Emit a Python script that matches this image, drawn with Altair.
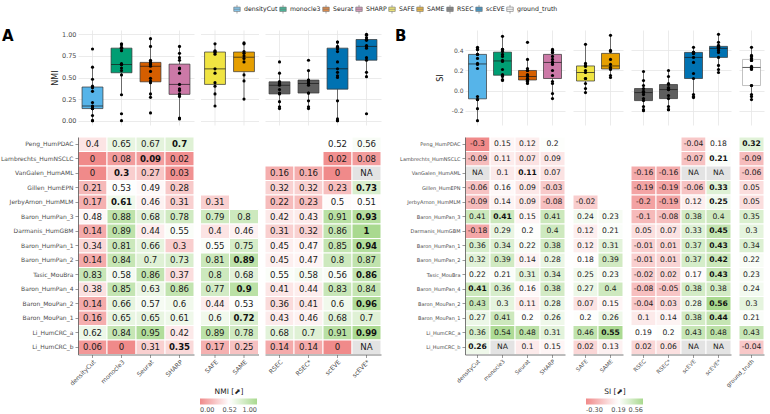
import altair as alt
import pandas as pd

# ---------------------------------------------------------------- data
datasets = [
    "Peng_HumPDAC", "Lambrechts_HumNSCLC", "VanGalen_HumAML", "Gillen_HumEPN",
    "JerbyArnon_HumMLM", "Baron_HumPan_3", "Darmanis_HumGBM", "Baron_HumPan_1",
    "Baron_HumPan_2", "Tasic_MouBra", "Baron_HumPan_4", "Baron_MouPan_2",
    "Baron_MouPan_1", "Li_HumCRC_a", "Li_HumCRC_b",
]

groups_nmi = [
    ["densityCut", "monocle3", "Seurat", "SHARP"],
    ["SAFE", "SAME"],
    ["RSEC", "RSEC*", "scEVE", "scEVE*"],
]
groups_si = groups_nmi + [["ground_truth"]]

NA = "NA"    # method ran but produced no usable result
# None = method not run on that dataset (no cell)

nmi = {
    "densityCut": [0.4, 0, 0, 0.21, 0.17, 0.48, 0.14, 0.34, 0.14, 0.83, 0.38, 0.14, 0.16, 0.62, 0.06],
    "monocle3":   [0.65, 0.08, 0.3, 0.53, 0.61, 0.88, 0.89, 0.81, 0.84, 0.58, 0.85, 0.66, 0.65, 0.84, 0],
    "Seurat":     [0.67, 0.09, 0.27, 0.49, 0.46, 0.68, 0.44, 0.66, 0.7, 0.86, 0.63, 0.57, 0.65, 0.95, 0.31],
    "SHARP":      [0.7, 0.02, 0.03, 0.28, 0.31, 0.78, 0.55, 0.3, 0.73, 0.37, 0.86, 0.6, 0.61, 0.42, 0.35],
    "SAFE":       [None, None, None, None, 0.31, 0.79, 0.4, 0.55, 0.81, 0.8, 0.77, 0.44, 0.6, 0.89, 0.17],
    "SAME":       [None, None, None, None, None, 0.8, 0.46, 0.75, 0.89, 0.68, 0.9, 0.53, 0.72, 0.78, 0.25],
    "RSEC":       [None, None, 0.16, 0.32, 0.22, 0.42, 0.31, 0.45, 0.45, 0.55, 0.41, 0.36, 0.43, 0.68, 0.14],
    "RSEC*":      [None, None, 0.16, 0.32, 0.23, 0.43, 0.32, 0.47, 0.47, 0.58, 0.44, 0.41, 0.46, 0.7, 0.14],
    "scEVE":      [0.52, 0.02, 0, 0.23, 0.5, 0.91, 0.86, 0.85, 0.8, 0.56, 0.83, 0.6, 0.68, 0.91, 0],
    "scEVE*":     [0.56, 0.08, NA, 0.73, 0.51, 0.93, 1, 0.94, 0.87, 0.86, 0.84, 0.96, 0.7, 0.99, NA],
}
nmi_best = ["SHARP", "Seurat", "monocle3", "scEVE*", "monocle3", "scEVE*", "scEVE*", "scEVE*",
            "SAME", "scEVE*", "SAME", "scEVE*", "SAME", "scEVE*", "SHARP"]

si = {
    "densityCut":   [-0.3, -0.09, NA, -0.06, -0.09, 0.41, -0.18, 0.36, 0.32, 0.22, 0.41, 0.43, 0.27, 0.36, 0.26],
    "monocle3":     [0.15, 0.11, 0.1, 0.16, 0.14, 0.41, 0.29, 0.34, 0.39, 0.21, 0.36, 0.3, 0.41, 0.54, NA],
    "Seurat":       [0.12, 0.07, 0.11, 0.09, 0.09, 0.15, 0.2, 0.22, 0.14, 0.31, 0.16, 0.11, 0.2, 0.48, 0.1],
    "SHARP":        [0.2, 0.09, 0.07, -0.03, -0.08, 0.41, 0.4, 0.38, 0.28, 0.34, 0.38, 0.28, 0.26, 0.31, 0.15],
    "SAFE":         [None, None, None, None, -0.02, 0.24, 0.12, 0.12, 0.18, 0.25, 0.27, 0.07, 0.2, 0.46, 0.02],
    "SAME":         [None, None, None, None, None, 0.23, 0.21, 0.31, 0.39, 0.23, 0.4, 0.15, 0.26, 0.55, 0.13],
    "RSEC":         [None, None, -0.16, -0.19, -0.2, -0.1, 0.05, -0.01, -0.01, -0.02, -0.08, -0.04, 0.1, 0.19, 0.02],
    "RSEC*":        [None, None, -0.16, -0.19, -0.19, -0.08, 0.07, 0.01, 0.01, 0.02, -0.05, 0.03, 0.14, 0.2, 0.06],
    "scEVE":        [-0.04, -0.07, NA, -0.06, 0.12, 0.38, 0.33, 0.37, 0.37, 0.17, 0.38, 0.28, 0.38, 0.43, NA],
    "scEVE*":       [0.18, 0.21, NA, 0.33, 0.25, 0.4, 0.45, 0.43, 0.42, 0.43, 0.38, 0.56, 0.44, 0.48, NA],
    "ground_truth": [0.32, -0.09, -0.06, 0.05, 0.05, 0.35, 0.3, 0.34, 0.22, 0.23, 0.24, 0.3, 0.21, 0.43, -0.04],
}
si_best = ["ground_truth", "scEVE*", "Seurat", "scEVE*", "scEVE*", "monocle3", "scEVE*", "scEVE*",
           "scEVE*", "scEVE*", "densityCut", "scEVE*", "scEVE*", "SAME", "densityCut"]

legend_methods = ["densityCut", "monocle3", "Seurat", "SHARP", "SAFE", "SAME", "RSEC", "scEVE", "ground_truth"]
legend_colors = ["#56B4E9", "#009E73", "#D55E00", "#CC79A7", "#F0E442", "#E69F00", "#5E5E5E", "#0072B2", "#FFFFFF"]

FONT = "DejaVu Sans"
GREY_TXT = "#4d4d4d"
GRID = "#e6e6e6"
BOX_H = 95
ROW_H = 14.5

# boxplot glyph used as legend symbol: box, median, whiskers
BOX_GLYPH = "M-0.75,-0.5H0.75V0.5H-0.75Z M-0.75,0H0.75 M0,-0.5V-1 M0,0.5V1"

method_legend = alt.Legend(
    title=None, orient="none", legendX=154, legendY=-26, direction="horizontal",
    columns=9, symbolType=BOX_GLYPH, symbolSize=74,
    symbolStrokeColor="#333333", symbolStrokeWidth=0.6, labelFontSize=6.2,
    labelColor="#222222", labelOffset=2, columnPadding=0, padding=0,
)


def long_table(values, best):
    recs = []
    for m, vals in values.items():
        for d, v, b in zip(datasets, vals, best):
            if v is None:
                continue
            missing = v == NA
            recs.append(dict(
                dataset=d, method=m, family=m.rstrip("*"),
                value=None if missing else float(v),
                label="NA" if missing else f"{v:g}",
                missing=missing, best=(b == m and not missing),
            ))
    return pd.DataFrame(recs)


def box_group(df, cols, ydom, yaxis, box_size, width, letter=None, box_stroke="#333333", legend=None):
    d = df[df.method.isin(cols) & ~df.missing]
    x = alt.X("method:N", sort=cols,
              scale=alt.Scale(domain=cols, paddingInner=0, paddingOuter=0),
              axis=alt.Axis(title=None, labels=False, ticks=False, domain=False, grid=True,
                            bandPosition=0.5, gridColor=GRID, gridWidth=0.8))
    y = alt.Y("value:Q", scale=alt.Scale(domain=ydom, nice=False, zero=False), axis=yaxis)
    color = alt.Color("family:N", scale=alt.Scale(domain=legend_methods, range=legend_colors), legend=legend)
    box = alt.Chart(d).mark_boxplot(
        extent=1.5, size=box_size, outliers=False,
        box={"stroke": box_stroke, "strokeWidth": 0.7},
        median={"color": "#1a1a1a", "strokeWidth": 1.2},
        rule={"color": "#333333", "strokeWidth": 0.7},
    ).encode(x=x, y=y, color=color)
    pts = alt.Chart(d).mark_circle(size=10, color="black", opacity=1).encode(x=x, y=y)
    layers = [box, pts]
    if letter is not None:
        tag = alt.Chart(pd.DataFrame({"panel": [letter[0]]})).mark_text(
            font=FONT, fontSize=15, fontWeight="bold", align="left", baseline="middle", color="black"
        ).encode(text="panel:N", x=alt.value(letter[1]), y=alt.value(6))
        layers.append(tag)
    return alt.layer(*layers).properties(width=width, height=BOX_H)


def heat_group(df, cols, width, fill_scale, legend, yaxis, cell_font, xlab_font):
    d = df[df.method.isin(cols)]
    x = alt.X("method:N", sort=cols,
              scale=alt.Scale(domain=cols, paddingInner=0, paddingOuter=0),
              axis=alt.Axis(title=None, labelAngle=-45, labelFontSize=xlab_font, labelColor=GREY_TXT,
                            tickSize=3, tickColor="#555555", tickWidth=0.6, domainColor="#555555",
                            domainWidth=0.8, labelPadding=1))
    y = alt.Y("dataset:N", scale=alt.Scale(domain=datasets, paddingInner=0, paddingOuter=0), axis=yaxis)
    base = alt.Chart(d).encode(x=x, y=y)
    cells = base.transform_filter("!datum.missing").mark_rect(stroke="white", strokeWidth=1).encode(
        fill=alt.Fill("value:Q", scale=fill_scale, legend=legend))
    na_cells = base.transform_filter("datum.missing").mark_rect(stroke="white", strokeWidth=1, fill="#e3e3e3")
    txt = base.transform_filter("!datum.best").mark_text(
        font=FONT, fontSize=cell_font, color="#1a1a1a").encode(text="label:N")
    bold = base.transform_filter("datum.best").mark_text(
        font=FONT, fontSize=cell_font, fontWeight="bold", color="#111111").encode(text="label:N")
    return alt.layer(cells, na_cells, txt, bold).properties(width=width, height=ROW_H * len(datasets))


def y_heat_axis(font, extent):
    return alt.Axis(title=None, labelFontSize=font, labelColor=GREY_TXT, tickSize=3, tickColor="#555555",
                    tickWidth=0.6, labelPadding=2, domainColor="#555555", domainWidth=0.8,
                    minExtent=extent, maxExtent=extent, labelLimit=200)


def y_box_axis(title, values, label_expr, extent, title_x, font):
    return alt.Axis(title=title, values=values, labelExpr=label_expr, labelFontSize=font,
                    labelColor=GREY_TXT, ticks=False, domain=False, grid=True, gridColor=GRID,
                    gridWidth=0.8, labelPadding=2, minExtent=extent, maxExtent=extent,
                    titleX=title_x, titleFontSize=8, titleFontWeight="normal", titleColor="#222222")


def hidden_y(values):
    return alt.Axis(title=None, values=values, labels=False, ticks=False, domain=False, grid=True,
                    gridColor=GRID, gridWidth=0.8)


def grad_legend(title, values, x, y, length, label_expr):
    return alt.Legend(title=title, orient="none", legendX=x, legendY=y, direction="horizontal",
                      gradientLength=length, gradientThickness=6, values=values, labelExpr=label_expr,
                      labelFontSize=6.5, labelColor=GREY_TXT, labelAlign="center", labelOffset=2,
                      titleFontSize=7.5, titleFontWeight="normal", titleColor="#222222",
                      titleAnchor="middle", titlePadding=3, gradientStrokeWidth=0, padding=0)


def panel(values, best, groups, cell_w, extent, ydom, yticks, ytitle, ylab_expr, title_x,
          fill_dom, fill_title, legend_x, letter, row_font, cell_font, xlab_font, box_font, spacing,
          method_leg=None):
    df = long_table(values, best)
    fill_scale = alt.Scale(domain=fill_dom, range=["#F08A8A", "#FFFFFF", "#A9D98F"], interpolate="rgb")
    boxes, heats = [], []
    for i, cols in enumerate(groups):
        w = cell_w * len(cols)
        first = i == 0
        stroke = "#a8a8a8" if cols == ["ground_truth"] else "#333333"
        yaxis = y_box_axis(ytitle, yticks, ylab_expr, extent, title_x, box_font) if first else hidden_y(yticks)
        boxes.append(box_group(df, cols, ydom, yaxis, cell_w * 0.72, w,
                               letter=(letter, 2 - extent) if first else None, box_stroke=stroke,
                               legend=method_leg if first else None))
        legend = grad_legend(fill_title, fill_dom, legend_x, 251, 57,
                             "datum.value < 0 ? '-' + format(-datum.value, '.2f') : format(datum.value, '.2f')"
                             ) if first else None
        heats.append(heat_group(df, cols, w, fill_scale, legend,
                                y_heat_axis(row_font, extent) if first else None, cell_font, xlab_font))
    box_row = alt.hconcat(*boxes, spacing=spacing, bounds="flush").resolve_scale(fill="independent")
    heat_row = alt.hconcat(*heats, spacing=spacing, bounds="flush").resolve_scale(fill="independent")
    return alt.vconcat(box_row, heat_row, spacing=11).resolve_scale(fill="independent")


neg_fmt1 = "datum.value < 0 ? '-' + format(-datum.value, '.1f') : format(datum.value, '.1f')"

panel_a = panel(nmi, nmi_best, groups_nmi, cell_w=29, extent=78, ydom=[-0.05, 1.05],
                yticks=[0, 0.25, 0.5, 0.75, 1], ytitle="NMI", ylab_expr="format(datum.value, '.2f')",
                title_x=-19, fill_dom=[0, 0.52, 1], fill_title="NMI [⬈]", legend_x=122, letter="A",
                row_font=6, cell_font=8.6, xlab_font=6.2, box_font=6.5, spacing=6.5,
                method_leg=method_legend)

panel_b = panel(si, si_best, groups_si, cell_w=25, extent=72, ydom=[-0.343, 0.603],
                yticks=[-0.2, 0, 0.2, 0.4], ytitle="SI", ylab_expr=neg_fmt1,
                title_x=-21, fill_dom=[-0.3, 0.19, 0.56], fill_title="SI [⬈]", legend_x=121, letter="B",
                row_font=5, cell_font=7.6, xlab_font=5.6, box_font=6, spacing=8)

chart = (
    alt.hconcat(panel_a, panel_b, spacing=11)
    .resolve_scale(fill="independent")
    .properties(padding={"left": 0, "top": 4, "right": 0, "bottom": 0})
    .configure(font=FONT)
    .configure_view(stroke=None)
)

chart.save("out.html", embed_options={"renderer": "svg", "actions": False})
